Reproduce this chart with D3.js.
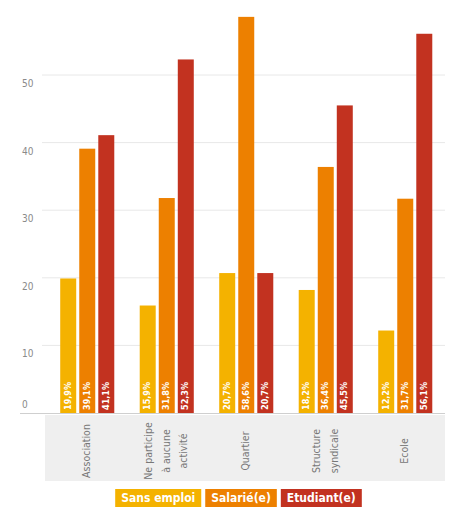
<!DOCTYPE html>
<html>
<head>
<meta charset="utf-8">
<script src="https://cdn.jsdelivr.net/npm/d3@7"></script>
<style>
  body { margin: 0; background: #fff; }
  svg { display: block; }
  text { font-family: "DejaVu Sans", sans-serif; font-stretch: condensed; }
</style>
</head>
<body>
<div id="chart"></div>
<script>
const width = 462;
const height = 509;

// Données
const categories = ['Association', 'Ne participe à aucune activité', 'Quartier', 'Structure syndicale', 'Ecole'];
const categoryLines = [['Association'], ['Ne participe', 'à aucune', 'activité'], ['Quartier'], ['Structure', 'syndicale'], ['Ecole']];
const series = ['Sans emploi', 'Salarié(e)', 'Etudiant(e)'];
const sansEmploi = [19.9, 15.9, 20.7, 18.2, 12.2];
const salarie = [39.1, 31.8, 58.6, 36.4, 31.7];
const etudiant = [41.1, 52.3, 20.7, 45.5, 56.1];
const yTicks = [0, 10, 20, 30, 40, 50];
const colors = ['#f4b200', '#ed8000', '#c23220'];

const values = [sansEmploi, salarie, etudiant];

const plotLeft = 47.5;
const plotRight = 445;
const baseY = 413;
const topY = 7.4;

const svg = d3.select('#chart')
  .append('svg')
  .attr('width', width)
  .attr('height', height);

// Escalas
const x0 = d3.scaleBand()
  .domain(categories)
  .range([plotLeft, plotRight])
  .paddingInner(0.32)
  .paddingOuter(0.16);

const x1 = d3.scaleBand()
  .domain(series)
  .range([0, x0.bandwidth()])
  .paddingInner(0.16);

const y = d3.scaleLinear()
  .domain([0, 60])
  .range([baseY, topY]);

const color = d3.scaleOrdinal().domain(series).range(colors);

// Zona gris de las etiquetas
svg.append('rect')
  .attr('x', 45)
  .attr('y', baseY + 2)
  .attr('width', plotRight - 45)
  .attr('height', 66)
  .attr('fill', '#efefef');

// Rejilla
const grid = svg.append('g');
grid.selectAll('line')
  .data(yTicks.filter(d => d > 0))
  .enter()
  .append('line')
  .attr('x1', 42)
  .attr('x2', plotRight)
  .attr('y1', d => y(d))
  .attr('y2', d => y(d))
  .attr('stroke', '#e8e8e8')
  .attr('stroke-width', 1);

svg.append('line')
  .attr('x1', 20)
  .attr('x2', plotRight)
  .attr('y1', baseY + 0.5)
  .attr('y2', baseY + 0.5)
  .attr('stroke', '#cfcfcf');

grid.selectAll('text')
  .data(yTicks)
  .enter()
  .append('text')
  .attr('x', 22)
  .attr('y', d => d === 0 ? y(d) - 8 : y(d) + 9)
  .attr('dominant-baseline', 'middle')
  .attr('font-size', 10)
  .attr('fill', '#8a8a8a')
  .text(d => d);

// Barras
const groups = svg.selectAll('.group')
  .data(categories)
  .enter()
  .append('g')
  .attr('class', 'group')
  .attr('transform', d => `translate(${x0(d)},0)`);

groups.selectAll('rect')
  .data((d, i) => series.map((s, j) => ({ s: s, v: values[j][i] })))
  .enter()
  .append('rect')
  .attr('x', d => x1(d.s))
  .attr('y', d => y(d.v))
  .attr('width', x1.bandwidth())
  .attr('height', d => baseY - y(d.v))
  .attr('fill', d => color(d.s));

// Etiquetas de valores
groups.selectAll('.val')
  .data((d, i) => series.map((s, j) => ({ s: s, v: values[j][i] })))
  .enter()
  .append('text')
  .attr('class', 'val')
  .attr('transform', d => `translate(${x1(d.s) + x1.bandwidth() / 2}, ${baseY - 3}) rotate(-90)`)
  .attr('dominant-baseline', 'middle')
  .attr('font-size', 9)
  .attr('font-weight', 'bold')
  .attr('fill', '#fff')
  .text(d => d3.format('.1f')(d.v).replace('.', ',') + '%');

// Etiquetas de categorías
const catLabels = svg.selectAll('.cat')
  .data(categories)
  .enter()
  .append('g')
  .attr('class', 'cat')
  .attr('transform', d => `translate(${x0(d) + x0.bandwidth() / 2}, 451) rotate(-90)`);

catLabels.each(function(d, i) {
  const lines = categoryLines[i];
  const n = lines.length;
  d3.select(this).selectAll('text')
    .data(lines)
    .enter()
    .append('text')
    .attr('x', 0)
    .attr('y', (l, k) => (k - (n - 1) / 2) * 17.5)
    .attr('text-anchor', 'middle')
    .attr('dominant-baseline', 'middle')
    .attr('font-size', 10.5)
    .attr('fill', '#777')
    .text(l => l);
});

// Leyenda
const legend = svg.append('g').attr('class', 'legend');
const padX = 6;
const gap = 4;
let xpos = 0;
series.forEach((s, i) => {
  const g = legend.append('g');
  const t = g.append('text')
    .attr('y', 9.5)
    .attr('dominant-baseline', 'middle')
    .attr('font-size', 12)
    .attr('font-weight', 'bold')
    .attr('fill', '#fff')
    .text(s);
  const w = t.node().getComputedTextLength();
  g.insert('rect', 'text')
    .attr('width', w + 2 * padX)
    .attr('height', 18)
    .attr('fill', color(s));
  t.attr('x', padX);
  g.attr('transform', `translate(${xpos},0)`);
  xpos += w + 2 * padX + gap;
});
const legendW = xpos - gap;
legend.attr('transform', `translate(${238.5 - legendW / 2}, 489)`);
</script>
</body>
</html>
